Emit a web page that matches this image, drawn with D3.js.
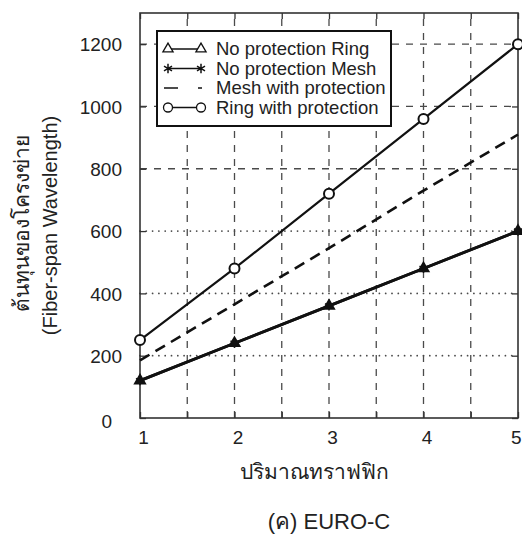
<!DOCTYPE html>
<html>
<head>
<meta charset="utf-8">
<script src="https://cdn.jsdelivr.net/npm/d3@7"></script>
<style>
  body { margin: 0; background: #fff; }
  svg text { font-family: "Liberation Sans", Arial, sans-serif; fill: #222; }
</style>
</head>
<body>
<div id="chart"></div>
<script>
// traffic volume on x, network cost on y
const traffic = [1, 2, 3, 4, 5];
const noProtRing = [120, 240, 360, 480, 600];
const noProtMesh = [120, 240, 360, 480, 600];
const meshProt = [185, 365, 545, 730, 910];
const ringProt = [250, 480, 720, 960, 1200];
const yTicks = [0, 200, 400, 600, 800, 1000, 1200];
const xTicks = [1, 2, 3, 4, 5];
const seriesNames = ['No protection Ring', 'No protection Mesh', 'Mesh with protection', 'Ring with protection'];

const width = 522, height = 543;
const margin = {top: 13, right: 4, bottom: 125, left: 140};

const svg = d3.select('#chart')
    .append('svg')
    .attr('width', width)
    .attr('height', height);

const x = d3.scaleLinear()
    .domain([1, 5])
    .range([margin.left, width - margin.right]);
const y = d3.scaleLinear()
    .domain([0, 1300])
    .range([height - margin.bottom, margin.top]);

const gridColor = '#4a4a4a';

// vertical grid, every half unit
svg.append('g')
    .selectAll('line')
    .data(d3.range(1.5, 5, 0.5))
    .enter()
    .append('line')
    .attr('x1', d => x(d)).attr('x2', d => x(d))
    .attr('y1', y(0)).attr('y2', y(1300))
    .attr('stroke', gridColor)
    .attr('stroke-width', 1.3)
    .attr('stroke-dasharray', '7,7');

// horizontal grid: dotted below 800, dashed above
svg.append('g')
    .selectAll('line')
    .data(yTicks.filter(d => d > 0))
    .enter()
    .append('line')
    .attr('x1', x(1)).attr('x2', x(5))
    .attr('y1', d => y(d)).attr('y2', d => y(d))
    .attr('stroke', gridColor)
    .attr('stroke-width', d => d < 800 ? 1.8 : 1.3)
    .attr('stroke-linecap', d => d < 800 ? 'round' : 'butt')
    .attr('stroke-dasharray', d => d < 800 ? '0,6.3' : '7,7');

// frame with inward ticks
const axisStyle = g => {
    g.select('.domain').remove();
    g.selectAll('.tick line').attr('stroke', '#333').attr('stroke-width', 1.3);
};
svg.append('g')
    .attr('transform', `translate(0,${y(0)})`)
    .call(d3.axisBottom(x).tickValues(d3.range(1, 5.01, 0.5)).tickSize(-6).tickFormat(''))
    .call(axisStyle);
svg.append('g')
    .attr('transform', `translate(0,${y(1300)})`)
    .call(d3.axisTop(x).tickValues(d3.range(1, 5.01, 0.5)).tickSize(-6).tickFormat(''))
    .call(axisStyle);
svg.append('g')
    .attr('transform', `translate(${x(5)},0)`)
    .call(d3.axisRight(y).tickValues(yTicks).tickSize(-6).tickFormat(''))
    .call(axisStyle);

const yAxis = svg.append('g')
    .attr('transform', `translate(${x(1)},0)`)
    .call(d3.axisLeft(y).tickValues(yTicks).tickSize(-6).tickPadding(18).tickFormat(d3.format('d')))
    .call(axisStyle);
yAxis.selectAll('text')
    .style('font-size', '19px')
    .attr('fill', '#222')
    .attr('dx', d => d === 0 ? -10 : 0)
    .attr('dy', d => d === 0 ? '0.5em' : '0.35em');

const xAxis = svg.append('g')
    .attr('transform', `translate(0,${y(0)})`)
    .call(d3.axisBottom(x).tickValues(xTicks).tickSize(0).tickPadding(13).tickFormat(d3.format('d')))
    .call(axisStyle);
xAxis.selectAll('text')
    .style('font-size', '19px')
    .attr('fill', '#222')
    .attr('text-anchor', d => d === 5 ? 'end' : 'middle')
    .attr('dx', 3);

svg.append('rect')
    .attr('x', x(1)).attr('y', y(1300))
    .attr('width', x(5) - x(1)).attr('height', y(0) - y(1300))
    .attr('fill', 'none')
    .attr('stroke', '#333')
    .attr('stroke-width', 1.6);

// the lines
const line = d3.line()
    .x((d, i) => x(traffic[i]))
    .y(d => y(d));

svg.append('path')
    .attr('d', line(meshProt))
    .attr('fill', 'none').attr('stroke', '#111')
    .attr('stroke-width', 2.6)
    .attr('stroke-dasharray', '11,7');
svg.append('path')
    .attr('d', line(ringProt))
    .attr('fill', 'none').attr('stroke', '#111')
    .attr('stroke-width', 2.2);
svg.append('path')
    .attr('d', line(noProtRing))
    .attr('fill', 'none').attr('stroke', '#111')
    .attr('stroke-width', 2.8);
svg.append('path')
    .attr('d', line(noProtMesh))
    .attr('fill', 'none').attr('stroke', '#111')
    .attr('stroke-width', 2.8);

// markers
const tri = d3.symbol().type(d3.symbolTriangle).size(50);
const star = d3.symbol().type(d3.symbolAsterisk).size(60);

svg.append('g')
    .selectAll('circle')
    .data(ringProt)
    .enter()
    .append('circle')
    .attr('cx', (d, i) => x(traffic[i]))
    .attr('cy', d => y(d))
    .attr('r', 5)
    .attr('fill', '#fff')
    .attr('stroke', '#111')
    .attr('stroke-width', 2);
svg.append('g')
    .selectAll('path')
    .data(noProtRing)
    .enter()
    .append('path')
    .attr('d', tri)
    .attr('transform', (d, i) => `translate(${x(traffic[i])},${y(d)})`)
    .attr('fill', '#111')
    .attr('stroke', '#111')
    .attr('stroke-width', 1.5);
svg.append('g')
    .selectAll('path')
    .data(noProtMesh)
    .enter()
    .append('path')
    .attr('d', star)
    .attr('transform', (d, i) => `translate(${x(traffic[i])},${y(d)})`)
    .attr('fill', 'none')
    .attr('stroke', '#111')
    .attr('stroke-width', 1.5);

// legend
const legend = svg.append('g').attr('transform', 'translate(157,31)');
legend.append('rect')
    .attr('width', 234).attr('height', 95)
    .attr('fill', '#fff')
    .attr('stroke', '#111')
    .attr('stroke-width', 2);

const rowY = i => 18 + i * 19.5;
const sx1 = 11, sx2 = 44;
seriesNames.forEach((name, i) => {
    const row = legend.append('g').attr('transform', `translate(0,${rowY(i)})`);
    if (i === 2) {
        row.append('line').attr('x1', sx1 - 4).attr('x2', sx1 + 10)
            .attr('stroke', '#111').attr('stroke-width', 1.5);
        row.append('line').attr('x1', sx2 - 3).attr('x2', sx2 + 1)
            .attr('stroke', '#111').attr('stroke-width', 1.5);
    } else {
        row.append('line').attr('x1', sx1).attr('x2', sx2)
            .attr('stroke', '#111').attr('stroke-width', 1.3);
        [sx1, sx2].forEach(sx => {
            if (i === 0) {
                row.append('path').attr('d', d3.symbol().type(d3.symbolTriangle).size(45))
                    .attr('transform', `translate(${sx},0)`)
                    .attr('fill', '#fff').attr('stroke', '#111').attr('stroke-width', 1.3);
            } else if (i === 1) {
                row.append('path').attr('d', star)
                    .attr('transform', `translate(${sx},0)`)
                    .attr('fill', 'none').attr('stroke', '#111').attr('stroke-width', 1.5);
            } else {
                row.append('circle').attr('cx', sx).attr('r', 4.5)
                    .attr('fill', '#fff').attr('stroke', '#111').attr('stroke-width', 1.3);
            }
        });
    }
    row.append('text')
        .attr('x', 59)
        .attr('dy', '0.35em')
        .style('font-size', '18.5px')
        .text(name);
});

// axis titles
svg.append('text')
    .attr('transform', `translate(22,${(y(0) + y(1300)) / 2 + 8}) rotate(-90)`)
    .attr('text-anchor', 'middle')
    .attr('dy', '0.35em')
    .style('font-size', '21px')
    .text('ต้นทุนของโครงข่าย');
svg.append('text')
    .attr('transform', `translate(50,${(y(0) + y(1300)) / 2 + 10}) rotate(-90)`)
    .attr('text-anchor', 'middle')
    .attr('dy', '0.35em')
    .style('font-size', '20px')
    .text('(Fiber-span Wavelength)');

svg.append('text')
    .attr('x', 314)
    .attr('y', 472)
    .attr('text-anchor', 'middle')
    .attr('dy', '0.35em')
    .style('font-size', '21px')
    .text('ปริมาณทราฟฟิก');

svg.append('text')
    .attr('x', 329)
    .attr('y', 521)
    .attr('text-anchor', 'middle')
    .attr('dy', '0.35em')
    .style('font-size', '22px')
    .text('(ค) EURO-C');
</script>
</body>
</html>
